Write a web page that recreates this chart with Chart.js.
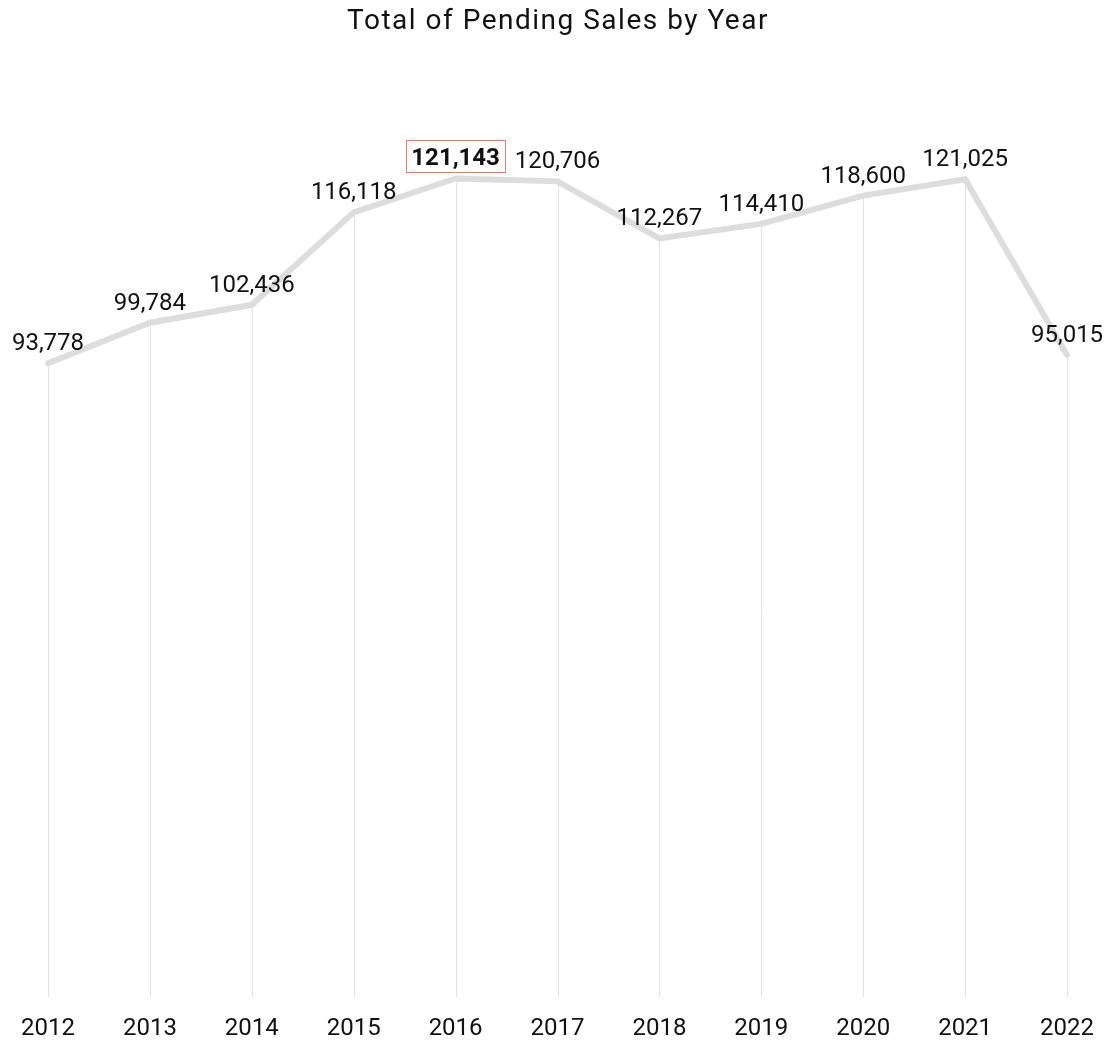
<!DOCTYPE html>
<html>
<head>
<meta charset="utf-8">
<title>Total of Pending Sales by Year</title>
<script src="https://cdn.jsdelivr.net/npm/chart.js@4/dist/chart.umd.min.js"></script>
<style>
  html, body { margin: 0; padding: 0; background: #ffffff; }
  #wrap { position: relative; width: 1112px; height: 1040px; }
</style>
</head>
<body>
<div id="wrap"><canvas id="chart" width="1112" height="1040"></canvas></div>
<script>
// Pending sales totals per year
const years = ['2012', '2013', '2014', '2015', '2016', '2017', '2018', '2019', '2020', '2021', '2022'];
const pendingSales = [93778, 99784, 102436, 116118, 121143, 120706, 112267, 114410, 118600, 121025, 95015];
const titleText = 'Total of Pending Sales by Year';

const FONT = 'Roboto, "Noto Sans", sans-serif';
const peakIndex = pendingSales.indexOf(Math.max(...pendingSales));

// Title drawn with letter spacing
const titlePlugin = {
  id: 'spacedTitle',
  afterDraw(chart) {
    const ctx = chart.ctx;
    ctx.save();
    ctx.font = '28px ' + FONT;
    ctx.fillStyle = '#111111';
    ctx.textAlign = 'center';
    ctx.textBaseline = 'alphabetic';
    if ('letterSpacing' in ctx) ctx.letterSpacing = '1.5px';
    ctx.fillText(titleText, 558, 29);
    ctx.restore();
  }
};

// Thin drop lines from each point down to the baseline
const dropLines = {
  id: 'dropLines',
  beforeDatasetsDraw(chart) {
    const ctx = chart.ctx;
    const meta = chart.getDatasetMeta(0);
    const bottom = chart.chartArea.bottom;
    ctx.save();
    ctx.strokeStyle = '#e3e3e3';
    ctx.lineWidth = 1;
    meta.data.forEach(pt => {
      const x = Math.round(pt.x) + 0.5;
      ctx.beginPath();
      ctx.moveTo(x, pt.y);
      ctx.lineTo(x, bottom);
      ctx.stroke();
    });
    ctx.restore();
  }
};

// Value labels above each point; the highest year is boxed and bold
const valueLabels = {
  id: 'valueLabels',
  afterDatasetsDraw(chart) {
    const ctx = chart.ctx;
    const meta = chart.getDatasetMeta(0);
    ctx.save();
    ctx.textAlign = 'center';
    ctx.textBaseline = 'alphabetic';
    meta.data.forEach((pt, i) => {
      const text = pendingSales[i].toLocaleString('en-US');
      const isPeak = i === peakIndex;
      ctx.font = (isPeak ? 'bold ' : '') + '24px ' + FONT;
      ctx.fillStyle = '#111111';
      const baseY = pt.y - 13;
      ctx.fillText(text, pt.x, baseY);
      if (isPeak) {
        const w = ctx.measureText(text).width;
        ctx.strokeStyle = '#e4806a';
        ctx.lineWidth = 1;
        ctx.strokeRect(Math.round(pt.x - w / 2 - 5) + 0.5, Math.round(baseY - 25) + 0.5, Math.round(w + 10), 32);
      }
    });
    ctx.restore();
  }
};

new Chart(document.getElementById('chart'), {
  type: 'line',
  data: {
    labels: years,
    datasets: [{
      data: pendingSales,
      borderColor: '#dddddd',
      borderWidth: 6,
      borderCapStyle: 'round',
      borderJoinStyle: 'miter',
      pointRadius: 0,
      pointHoverRadius: 0,
      tension: 0,
      fill: false
    }]
  },
  options: {
    responsive: false,
    animation: false,
    events: [],
    layout: { padding: { top: 51, left: 48, right: 44, bottom: 0 } },
    plugins: {
      legend: { display: false },
      title: { display: false },
      tooltip: { enabled: false }
    },
    scales: {
      x: {
        offset: false,
        border: { display: false },
        grid: { display: false, drawTicks: false },
        afterFit(scale) { scale.height = 43; },
        ticks: {
          padding: 18,
          color: '#111111',
          font: { family: FONT, size: 24 },
          maxRotation: 0,
          autoSkip: false
        }
      },
      y: {
        display: false,
        min: 0,
        max: 140000
      }
    }
  },
  plugins: [titlePlugin, dropLines, valueLabels]
});
</script>
</body>
</html>
